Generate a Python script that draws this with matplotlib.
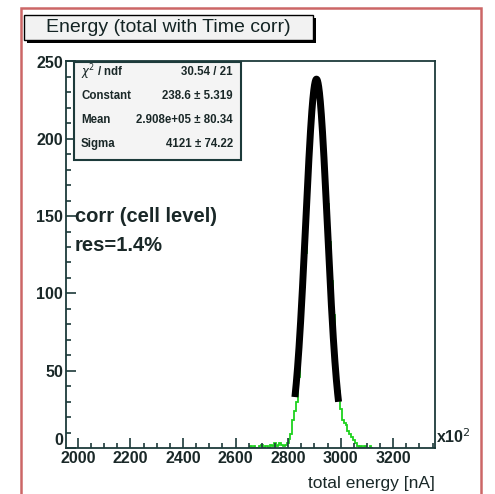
import numpy as np
import matplotlib
matplotlib.use('Agg')
import matplotlib.pyplot as plt
from matplotlib.patches import Rectangle

plt.rcParams['font.family'] = ['Liberation Sans', 'DejaVu Sans']

# histogram of total energy (x in units of 1e2 nA), 7-unit bins starting at 2648
BIN_LO = 2648
BIN_W = 7
counts = [0, 1, 0, 1, 0, 0, 1, 2, 0, 1, 1, 0, 2, 1, 3, 1, 2, 3, 2, 1,
          2, 3, 6, 9, 18, 24, 30, 46, 64, 82, 104, 126, 160, 207, 216, 222,
          231, 238, 232, 209, 200, 197, 180, 158, 133, 108, 86, 67, 50, 37,
          25, 18, 16, 15, 11, 9, 7, 5, 3, 1, 0, 1, 0, 1, 0, 0, 1, 0]

# gaussian fit result
fit_const = 238.6
fit_mean = 2908.0   # 2.908e+05 nA
fit_sigma = 41.21   # 4121 nA
fit_range = (2826, 2992)

stats_names = ['$\\chi^2$ / ndf', 'Constant', 'Mean', 'Sigma']
stats_values = ['30.54 / 21', '238.6 ± 5.319', '2.908e+05 ± 80.34', '4121 ± 74.22']

W, H = 495, 494
fig = plt.figure(figsize=(W / 100, H / 100), dpi=100)


def fx(px):
    return px / W


def fy(py):
    return 1 - py / H


txt_col = '#1a2828'
frame_col = '#1c3a3a'

# canvas frame
fig.patches.append(Rectangle((fx(21), fy(505)), fx(460), 497 / H, transform=fig.transFigure,
                             fill=False, ec='#cc6666', lw=1.8))

ax = fig.add_axes([fx(66), fy(448), fx(435 - 66), (448 - 61.5) / H])
ax.set_xlim(1955, 3359)
ax.set_ylim(0, 250)

edges = BIN_LO + BIN_W * np.arange(len(counts) + 1)
ax.stairs(counts, edges, color='#1ed21e', lw=1.3, baseline=None)

xf = np.linspace(*fit_range, 300)
yf = fit_const * np.exp(-0.5 * ((xf - fit_mean) / fit_sigma) ** 2)
ax.plot(xf, yf, color='black', lw=5, solid_capstyle='butt')

for s in ax.spines.values():
    s.set_color(frame_col)
    s.set_linewidth(1.3)

ax.set_xticks(np.arange(2000, 3201, 200))
ax.set_xticks(np.arange(2000, 3359, 50), minor=True)
ax.set_yticks(np.arange(0, 251, 50))
ax.set_yticks(np.arange(0, 251, 10), minor=True)
ax.tick_params(which='both', direction='in', top=False, right=False, color=frame_col, width=1.2)
ax.tick_params(which='major', length=7.5, labelsize=11.5, pad=2, labelcolor=txt_col)
ax.tick_params(which='minor', length=3.8)
for lab in ax.get_xticklabels() + ax.get_yticklabels():
    lab.set_fontweight('bold')
# the "0" sits just above the x labels
ax.get_yticklabels()[0].set_va('bottom')

ax.text(3361, 1, 'x10$^2$', fontsize=11.5, fontweight='bold', color=txt_col,
        ha='left', va='bottom', clip_on=False)
ax.text(1.0, -0.072, 'total energy [nA]', transform=ax.transAxes, fontsize=12.5,
        color=txt_col, ha='right', va='top')

ax.text(1989, 150, 'corr (cell level)', fontsize=14.5, fontweight='bold', color=txt_col,
        ha='left', va='center')
ax.text(1989, 131, 'res=1.4%', fontsize=14.5, fontweight='bold', color=txt_col,
        ha='left', va='center')

# title box with shadow
fig.patches.append(Rectangle((fx(27), fy(43)), fx(289), 25 / H, transform=fig.transFigure,
                             fc='black', ec='none'))
fig.patches.append(Rectangle((fx(24), fy(40)), fx(289), 25 / H, transform=fig.transFigure,
                             fc='#f2f2f2', ec='black', lw=1.0))
fig.text(fx(168), fy(27.5), 'Energy (total with Time corr)', fontsize=14, color='#142424',
         ha='center', va='center')

# fit statistics box
fig.patches.append(Rectangle((fx(74), fy(160)), fx(167), 98 / H, transform=fig.transFigure,
                             fc='#f4f4f4', ec=frame_col, lw=1.5, zorder=5))
for i, (name, val) in enumerate(zip(stats_names, stats_values)):
    yy = fy(72 + 24 * i)
    fig.text(fx(81), yy, name, fontsize=8.3, fontweight='bold', color=txt_col,
             ha='left', va='center', zorder=6)
    fig.text(fx(233), yy, val, fontsize=8.3, fontweight='bold', color=txt_col,
             ha='right', va='center', zorder=6)

fig.savefig('out.png', dpi=100)
